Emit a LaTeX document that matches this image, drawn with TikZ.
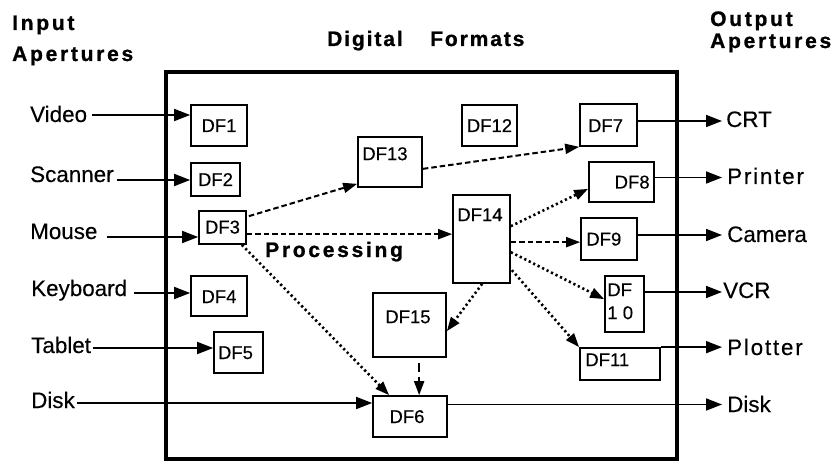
\documentclass[tikz,border=0pt]{standalone}
\usepackage{fontspec}
\setmainfont{Liberation Sans}
\newfontfamily\labf[FakeBold=0.3]{Liberation Sans}
\newfontfamily\labwf[LetterSpace=8,FakeBold=0.3]{Liberation Sans}
\newfontfamily\ttlf[LetterSpace=13,FakeBold=1]{Liberation Sans Bold}
\newfontfamily\ttlnf[LetterSpace=9,FakeBold=1]{Liberation Sans Bold}
\usetikzlibrary{arrows.meta,fit,calc}
\begin{document}
\begin{tikzpicture}[x=1pt,y=-1pt,
  box/.style={draw, line width=1.7pt, inner sep=0pt},
  dftext/.style={inner sep=0pt, font=\labf\fontsize{18.5}{24}\selectfont},
  lab/.style={inner sep=0pt, anchor=base west, font=\labf\fontsize{22.4}{22.4}\selectfont},
  labw/.style={inner sep=0pt, anchor=base west, font=\labwf\fontsize{22.4}{22.4}\selectfont},
  ttl/.style={inner sep=0pt, anchor=base west, font=\ttlf\fontsize{21}{21}\selectfont},
  ttln/.style={inner sep=0pt, anchor=base west, font=\ttlnf\fontsize{21}{21}\selectfont},
  ln/.style={line width=1.7pt, -{Triangle[length=16pt,width=12pt]}},
  dsh/.style={line width=2pt, dash pattern=on 5.5pt off 3pt, -{Triangle[length=14pt,width=10pt]}},
  dot/.style={line width=2.6pt, dash pattern=on 2.2pt off 2.8pt, -{Triangle[length=14pt,width=10pt]}},
]
\useasboundingbox (0,0) rectangle (837,462);

% frame
\node[draw, line width=4.7pt, inner sep=0pt, fit={(166,72)(677,459)}] (frame) {};

% titles
\node[ttl] (tin1) at (12,30) {Input};
\node[ttl] (tin2) at (12,61) {Apertures};
\node[ttln] (tdig) at (327,46) {Digital};
\node[ttln] (tfor) at (430,46) {Formats};
\node[ttl] (tout1) at (710,26) {Output};
\node[ttl] (tout2) at (710,48) {Apertures};
\node[ttl] (tproc) at (265,257) {Processing};

% boxes
\node[box, fit={(191,105)(247,146)}] (df1) {};
\node[box, fit={(191,163)(240,196)}] (df2) {};
\node[box, fit={(199,211)(246,244)}] (df3) {};
\node[box, fit={(191,276)(247,316)}] (df4) {};
\node[box, fit={(214,332)(263,373)}] (df5) {};
\node[box, fit={(373,396)(447,437)}] (df6) {};
\node[box, fit={(580,104)(637,146)}] (df7) {};
\node[box, fit={(589,162)(654,202)}] (df8) {};
\node[box, fit={(581,218)(637,260)}] (df9) {};
\node[box, fit={(605,276)(644,332)}] (df10) {};
\node[box, fit={(580,348)(660,380)}] (df11) {};
\node[box, fit={(462,105)(517,146)}] (df12) {};
\node[box, fit={(358,137)(422,187)}] (df13) {};
\node[box, fit={(453,195)(510,283)}] (df14) {};
\node[box, fit={(373,293)(446,357)}] (df15) {};

% box texts
\node[dftext, anchor=base] (t1) at ([yshift=-6.5pt]df1.center) {DF1};
\node[dftext, anchor=base] (t2) at ([yshift=-6.5pt]df2.center) {DF2};
\node[dftext, anchor=base] (t3) at ([yshift=-6pt]df3.center) {DF3};
\node[dftext, anchor=base] (t4) at ([yshift=-7pt]df4.center) {DF4};
\node[dftext, anchor=base] (t5) at ([xshift=-3pt,yshift=-6.5pt]df5.center) {DF5};
\node[dftext, anchor=base] (t6) at ([xshift=-3pt,yshift=-6.5pt]df6.center) {DF6};
\node[dftext, anchor=base] (t7) at ([xshift=-3pt,yshift=-7pt]df7.center) {DF7};
\node[dftext, anchor=base] (t12) at ([yshift=-6.5pt]df12.center) {DF12};
\node[dftext, anchor=base west] (t13) at ([xshift=5pt,yshift=-24pt]df13.north west) {DF13};
\node[dftext, anchor=base west] (t14) at ([xshift=5pt,yshift=-27pt]df14.north west) {DF14};
\node[dftext, anchor=base west] (t15) at ([xshift=13pt,yshift=-31pt]df15.north west) {DF15};
\node[dftext, anchor=base east] (t8) at ([xshift=-5pt,yshift=-6.5pt]df8.east) {DF8};
\node[dftext, anchor=base west] (t9) at ([xshift=6pt,yshift=-6.5pt]df9.west) {DF9};
\node[dftext, anchor=base west] (t10a) at ([xshift=3pt,yshift=-21pt]df10.north west) {DF};
\node[dftext, anchor=base west] (t10b) at ([xshift=3pt,yshift=-44pt]df10.north west) {1 0};
\node[dftext, anchor=base west] (t11) at ([xshift=6pt,yshift=-19pt]df11.north west) {DF11};

% input labels
\node[lab] (video) at (30,122) {Video};
\node[lab] (scanner) at (30,182) {Scanner};
\node[lab] (mouse) at (30,239) {Mouse};
\node[lab] (keyboard) at (31,296) {Keyboard};
\node[lab] (tablet) at (31,353) {Tablet};
\node[lab] (diskin) at (31,408) {Disk};

\coordinate (sv) at ([xshift=5pt,yshift=7pt]video.base east);
\coordinate (ss) at ([xshift=3pt,yshift=2pt]scanner.base east);
\coordinate (sm) at ([xshift=9pt,yshift=2pt]mouse.base east);
\coordinate (sk) at ([xshift=7pt,yshift=3pt]keyboard.base east);
\coordinate (st) at ([xshift=2pt,yshift=5pt]tablet.base east);
\coordinate (sd) at ([xshift=2pt,yshift=5pt]diskin.base east);
\draw[ln] (sv) -- (sv -| df1.west);
\draw[ln] (ss) -- (ss -| df2.west);
\draw[ln] (sm) -- (sm -| df3.west);
\draw[ln] (sk) -- (sk -| df4.west);
\draw[ln] (st) -- (st -| df5.west);
\draw[ln] (sd) -- (sd -| df6.west);

% output labels
\node[lab] (crt) at (726,127) {CRT};
\node[labw] (printer) at (727,184) {Printer};
\node[lab] (camera) at (727,242) {Camera};
\node[lab] (vcr) at (723,298) {VCR};
\node[labw] (plotter) at (727,355) {Plotter};
\node[lab] (diskout) at (727,412) {Disk};

\coordinate (ec) at ([xshift=-4pt,yshift=6pt]crt.base west);
\coordinate (ep) at ([xshift=-5pt,yshift=6.5pt]printer.base west);
\coordinate (ecam) at ([xshift=-5pt,yshift=7pt]camera.base west);
\coordinate (ev) at ([xshift=-1pt,yshift=6pt]vcr.base west);
\coordinate (epl) at ([xshift=-5pt,yshift=7pt]plotter.base west);
\coordinate (ed) at ([xshift=-5pt,yshift=7.5pt]diskout.base west);
\draw[ln] (ec -| df7.east) -- (ec);
\draw[ln] (ep -| df8.east) -- (ep);
\draw[ln] (ecam -| df9.east) -- (ecam);
\draw[ln] (ev -| df10.east) -- (ev);
\draw[ln] (df11.north east) -- (df11.north east -| epl);
\draw[ln] (ed -| df6.east) -- (ed);

% processing connectors
\draw[dsh] ([xshift=2pt,yshift=-6pt]df3.north east) -- ([yshift=4pt]df13.south west);
\coordinate (p3) at ([yshift=-24pt]df3.north east);
\draw[dsh] (p3) -- (p3 -| df14.west);
\draw[dot] ([xshift=-5pt]df3.south east) -- ([xshift=17pt]df6.north west);
\draw[dsh] ([yshift=19pt]df13.south east) -- (df7.south west);
\draw[dot] ([yshift=-32pt]df14.north east) -- ([yshift=14pt]df8.south west);
\coordinate (p9) at ([yshift=-48pt]df14.north east);
\draw[dsh] (p9) -- (p9 -| df9.west);
\draw[dot] ([yshift=-58pt]df14.north east) -- ([yshift=-24pt]df10.north west);
\draw[dot] ([xshift=1pt,yshift=-76pt]df14.north east) -- (df11.north west);
\draw[dot] ([xshift=30pt]df14.south west) -- ([yshift=-39pt]df15.north east);
\draw[dsh, dash pattern=on 9pt off 5pt] ([xshift=47pt,yshift=-5pt]df15.south west) -- ([xshift=47pt]df6.north west);
\end{tikzpicture}
\end{document}
